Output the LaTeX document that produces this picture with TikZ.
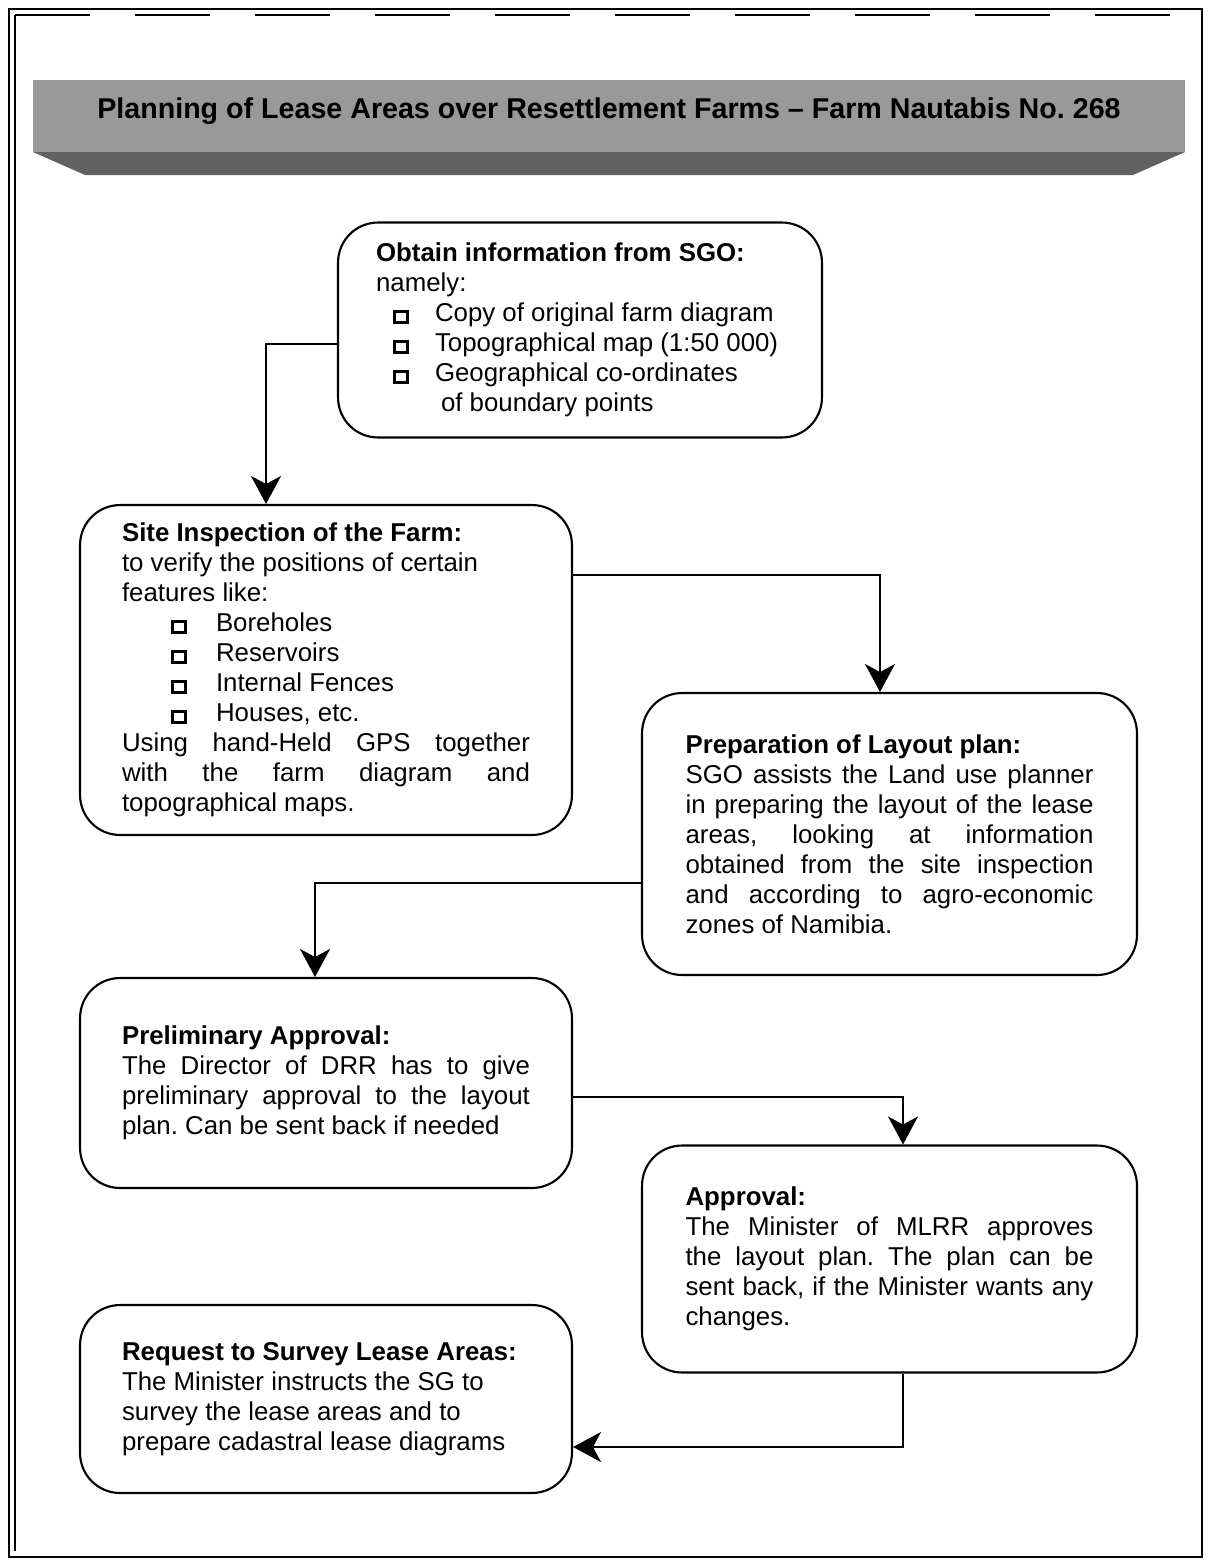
\documentclass[tikz,border=0pt]{standalone}
\usepackage{fontspec}
\setmainfont{Liberation Sans}
\usetikzlibrary{arrows.meta}

\newcommand{\sqmark}{\raisebox{0.01cm}{\setlength{\fboxsep}{0pt}\setlength{\fboxrule}{1.6pt}\fbox{\rule{0pt}{0.17cm}\rule{0.21cm}{0pt}}}}
\newcommand{\sqitem}[3]{\hspace*{#1}\makebox[#2][l]{\sqmark}#3}
\newcommand{\jline}[1]{\makebox[\hsize][s]{#1}\\}

\tikzset{
  stepbox/.style={draw, line width=1.2pt, rounded corners=0.8cm, align=left,
    text width=8.16cm, inner sep=0pt, font=\fontsize{14.7}{17.07}\selectfont,
    execute at begin node={\spaceskip=0pt\xspaceskip=0pt\frenchspacing}},
  flow/.style={line width=1.1pt, -{Stealth[length=0.56cm,width=0.6cm,inset=0.16cm]}},
}

\begin{document}
\begin{tikzpicture}[x=0.02cm,y=-0.02cm]
  \useasboundingbox (0,0) rectangle (1209,1560);
  % frame
  \draw[line width=1.3pt] (9,9) rectangle (1202,1557);
  \draw[line width=1.3pt] (15,15) -- (15,1551);
  \draw[line width=1.3pt, dash pattern=on 1.5cm off 0.9cm] (15,15) -- (1196,15);
  % banner
  \fill[black!40] (33,80) rectangle (1185,152);
  \fill[black!62] (33,152) -- (1185,152) -- (1133,175) -- (85,175) -- cycle;
  \node[font=\fontsize{16.3}{19}\selectfont\bfseries] (title) at (609,111)
    {Planning of Lease Areas over Resettlement Farms -- Farm Nautabis No.~268};

  % steps
  \node[stepbox, minimum width=9.68cm, minimum height=4.3cm] (obtain) at (580,330) {%
    {\bfseries Obtain information from SGO:}\\
    namely:\\
    \sqitem{0.34cm}{0.84cm}{Copy of original farm diagram}\\
    \sqitem{0.34cm}{0.84cm}{Topographical map (1:50 000)}\\
    \sqitem{0.34cm}{0.84cm}{Geographical co-ordinates}\\
    \hspace*{1.3cm}of boundary points};
  \node[stepbox, minimum width=9.84cm, minimum height=6.6cm] (site) at (326,670) {%
    {\bfseries Site Inspection of the Farm:}\\
    to verify the positions of certain\\
    features like:\\
    \sqitem{0.98cm}{0.9cm}{Boreholes}\\
    \sqitem{0.98cm}{0.9cm}{Reservoirs}\\
    \sqitem{0.98cm}{0.9cm}{Internal Fences}\\
    \sqitem{0.98cm}{0.9cm}{Houses, etc.}\\
    \jline{Using hand-Held GPS together}
    \jline{with the farm diagram and}
    topographical maps.};
  \node[stepbox, minimum width=9.9cm, minimum height=5.64cm] (prep) at (889.5,834) {%
    {\bfseries Preparation of Layout plan:}\\
    \jline{SGO assists the Land use planner}
    \jline{in preparing the layout of the lease}
    \jline{areas, looking at information}
    \jline{obtained from the site inspection}
    \jline{and according to agro-economic}
    zones of Namibia.};
  \node[stepbox, minimum width=9.84cm, minimum height=4.2cm] (prelim) at (326,1083) {%
    {\bfseries Preliminary Approval:}\\
    \jline{The Director of DRR has to give}
    \jline{preliminary approval to the layout}
    plan. Can be sent back if needed\par\vspace*{0.84cm}};
  \node[stepbox, minimum width=9.9cm, minimum height=4.54cm] (approval) at (889.5,1259) {%
    {\bfseries Approval:}\\
    \jline{The Minister of MLRR approves}
    \jline{the layout plan. The plan can be}
    \jline{sent back, if the Minister wants any}
    changes.};
  \node[stepbox, minimum width=9.84cm, minimum height=3.76cm] (request) at (326,1399) {%
    {\bfseries Request to Survey Lease Areas:}\\
    The Minister instructs the SG to\\
    survey the lease areas and to\\
    prepare cadastral lease diagrams};

  % connectors
  \draw[flow] ([yshift=-0.28cm]obtain.west) -| ([xshift=-1.2cm]site.north);
  \draw[flow] ([yshift=1.9cm]site.east) -| ([xshift=-0.19cm]prep.north);
  \draw[flow] ([yshift=-0.98cm]prep.west) -| ([xshift=-0.22cm]prelim.north);
  \draw[flow] ([yshift=-0.28cm]prelim.east) -| ([xshift=0.27cm]approval.north);
  \draw[flow] ([xshift=0.27cm]approval.south) |- ([yshift=-0.96cm]request.east);
\end{tikzpicture}
\end{document}
